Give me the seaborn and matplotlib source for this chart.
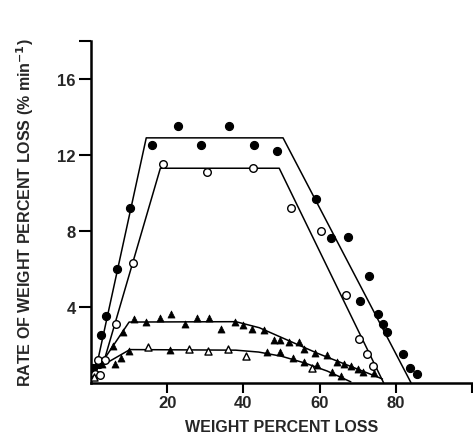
import numpy as np
import pandas as pd
import matplotlib
matplotlib.use("Agg")
import matplotlib.pyplot as plt
import seaborn as sns

# ---- data ----
# filled circles
fc_x = [0.6, 2.0, 2.5, 4.0, 6.7, 10.3, 16.1, 22.8, 28.9, 36.1, 42.7, 48.9,
        59.1, 63.0, 67.5, 70.6, 73.0, 75.3, 76.7, 77.8, 81.9, 83.8, 85.5]
fc_y = [0.8, 1.0, 2.5, 3.5, 6.0, 9.2, 12.5, 13.5, 12.5, 13.5, 12.5, 12.2,
        9.7, 7.6, 7.7, 4.3, 5.6, 3.6, 3.1, 2.65, 1.5, 0.8, 0.47]
# open circles
oc_x = [1.0, 1.9, 2.4, 3.7, 6.5, 10.9, 19.0, 30.4, 42.4, 52.6, 60.3, 66.9,
        70.4, 72.4, 74.1]
oc_y = [0.45, 1.2, 0.4, 1.2, 3.1, 6.3, 11.5, 11.1, 11.3, 9.2, 8.0, 4.6,
        2.3, 1.5, 0.9]
# filled triangles, upper series
ft_x = [3.0, 5.8, 8.3, 11.3, 14.4, 18.2, 21.1, 24.8, 27.7, 31.0, 34.0, 37.7,
        39.9, 42.3, 45.4, 47.9, 49.7, 51.9, 54.5, 56.0, 58.8, 62.0, 64.5,
        66.5, 68.2, 70.0, 71.5, 74.4]
ft_y = [1.0, 1.96, 2.67, 3.34, 3.2, 3.4, 3.6, 3.1, 3.4, 3.4, 2.85, 3.2,
        3.06, 2.85, 2.76, 2.26, 2.26, 2.14, 2.14, 1.8, 1.56, 1.47, 1.12,
        1.0, 0.9, 0.73, 0.59, 0.52]
# filled triangles, lower series
lt_x = [6.3, 8.0, 9.9, 20.7, 46.3, 49.7, 53.0, 55.8, 59.3, 63.2, 65.5]
lt_y = [1.0, 1.3, 1.7, 1.72, 1.63, 1.61, 1.3, 1.12, 0.95, 0.55, 0.34]
# open triangles
ot_x = [0.8, 15.0, 25.7, 30.7, 35.9, 40.8, 57.9]
ot_y = [0.3, 1.88, 1.8, 1.66, 1.77, 1.4, 0.77]

# fitted lines
lineA_x = [1.8, 14.5, 50.4, 84.0]
lineA_y = [1.2, 12.9, 12.9, 0.0]
lineB_x = [3.2, 18.2, 49.4, 76.8]
lineB_y = [1.0, 11.3, 11.3, 0.0]
lineC_x = [3.2, 10.0, 38.0, 44.2, 59.5, 74.8, 76.5]
lineC_y = [1.17, 3.2, 3.22, 2.9, 1.55, 0.34, 0.2]
lineD_x = [3.7, 10.2, 38.0, 44.0, 50.0, 56.0, 62.0, 68.2]
lineD_y = [1.0, 1.75, 1.72, 1.62, 1.4, 1.05, 0.62, 0.05]

x_ticks = [20, 40, 60, 80, 100]
x_tick_labels = ["20", "40", "60", "80", ""]
y_ticks = [4, 8, 12, 16, 18]
y_tick_labels = ["4", "8", "12", "16", ""]

sns.set_style("ticks")
plt.rcParams['font.family'] = ['Liberation Sans', 'DejaVu Sans']

fig = plt.figure(figsize=(4.73, 4.39), dpi=100)
ax = fig.add_axes([0.1924, 0.1257, 0.8055, 0.7786])

for lx, ly in [(lineA_x, lineA_y), (lineB_x, lineB_y), (lineC_x, lineC_y), (lineD_x, lineD_y)]:
    sns.lineplot(x=lx, y=ly, ax=ax, color="black", linewidth=1.1, sort=False,
                 estimator=None)

sns.scatterplot(x=fc_x, y=fc_y, ax=ax, marker="o", s=34, color="black",
                edgecolor="black", linewidth=0.8, zorder=5)
sns.scatterplot(x=oc_x, y=oc_y, ax=ax, marker="o", s=30, facecolor="white",
                edgecolor="black", linewidth=1.0, zorder=5)
sns.scatterplot(x=ft_x, y=ft_y, ax=ax, marker="^", s=26, color="black",
                edgecolor="black", linewidth=0.5, zorder=5)
sns.scatterplot(x=lt_x, y=lt_y, ax=ax, marker="^", s=26, color="black",
                edgecolor="black", linewidth=0.5, zorder=5)
sns.scatterplot(x=ot_x, y=ot_y, ax=ax, marker="^", s=26, facecolor="white",
                edgecolor="black", linewidth=1.0, zorder=5)

ax.set_xlim(0, 100)
ax.set_ylim(0, 18)
ax.set_xticks(x_ticks)
ax.set_xticklabels(x_tick_labels, fontsize=12, fontweight="bold")
ax.set_yticks(y_ticks)
ax.set_yticklabels(y_tick_labels, fontsize=12, fontweight="bold")
ax.tick_params(axis="both", direction="out", length=7, width=1.5, color="black", pad=2)
ax.tick_params(axis="y", length=9)
for side in ["top", "right"]:
    ax.spines[side].set_visible(False)
for side in ["left", "bottom"]:
    ax.spines[side].set_linewidth(1.8)
    ax.spines[side].set_color("black")

ax.set_xlabel("WEIGHT PERCENT LOSS", fontsize=11.5, fontweight="bold", labelpad=6)
ax.set_ylabel("RATE OF WEIGHT PERCENT LOSS (% min$^{\\mathbf{-1}}$)", fontsize=11.5,
              fontweight="bold")
ax.yaxis.set_label_coords(-0.145, 0.5)

fig.savefig("out.png", dpi=100)
